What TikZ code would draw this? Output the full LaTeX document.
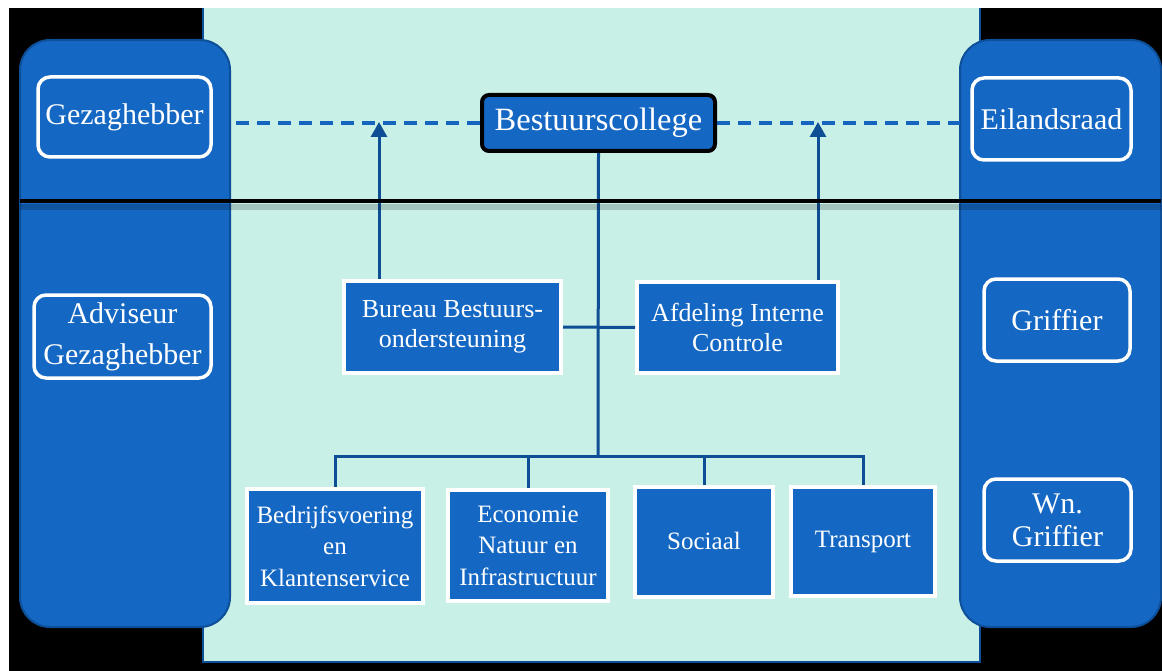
\documentclass[tikz,border=0pt]{standalone}
\usepackage{fontspec}
\setmainfont{Liberation Serif}
\usetikzlibrary{arrows.meta}
\definecolor{boxblue}{HTML}{1467C2}
\definecolor{paneledge}{HTML}{0D4F98}
\definecolor{mint}{HTML}{C8F0E6}
\definecolor{linkblue}{HTML}{0E4E94}
\definecolor{dashblue}{HTML}{1565C0}
\tikzset{
  sidebox/.style={rectangle, rounded corners=12pt, draw=white, line width=3.5pt, fill=boxblue, text=white, align=center, inner sep=2pt},
  unitbox/.style={rectangle, draw=white, line width=4pt, fill=boxblue, text=white, align=center, inner sep=2pt},
  headbox/.style={rectangle, rounded corners=7pt, draw=black, line width=4pt, fill=boxblue, text=white, align=center, inner sep=2pt},
  panel/.style={rounded corners=30pt, fill=boxblue, draw=paneledge, line width=2pt},
  link/.style={draw=linkblue, line width=3pt},
  uparrow/.style={link, -{Triangle[width=16pt,length=15pt]}},
  dashlink/.style={draw=dashblue, line width=4pt, dash pattern=on 13pt off 8pt},
  sidefont/.style={font=\fontsize{30}{41}\selectfont},
  midfont/.style={font=\fontsize{26}{30}\selectfont},
  lowfont/.style={font=\fontsize{25}{31.5}\selectfont}
}
\begin{document}
\begin{tikzpicture}[x=1pt,y=-1pt]
\useasboundingbox (0,0) rectangle (1162,671);
\fill[white] (0,0) rectangle (1162,671);
\fill[black] (9,8) rectangle (1162,671);
% central mint panel
\fill[mint] (203,8) rectangle (980,662);
\draw[paneledge, line width=2.5pt] (203,8) -- (203,662) -- (980,662) -- (980,8);
% side panels
\path[panel] (20,40) rectangle (230,627);
\path[panel] (960,40) rectangle (1161,627);

% nodes
\node[sidebox, sidefont, minimum width=173, minimum height=80] (gez) at (124.5,117) {Gezaghebber};
\node[sidebox, sidefont, minimum width=159, minimum height=82] (eil) at (1051.5,119) {Eilandsraad};
\node[sidebox, sidefont, minimum width=177, minimum height=83] (adv) at (122.5,336.5) {Adviseur\\Gezaghebber};
\node[sidebox, sidefont, minimum width=146, minimum height=82] (grif) at (1057,320) {Griffier};
\node[sidebox, font=\fontsize{30}{33}\selectfont, minimum width=147, minimum height=82] (wn) at (1057.5,520) {Wn.\\Griffier};
\node[headbox, font=\fontsize{32.5}{36}\selectfont, minimum width=233, minimum height=56] (bc) at (598.5,123) {Bestuurscollege};
\node[unitbox, midfont, minimum width=217, minimum height=92] (bbo) at (452.5,327) {Bureau Bestuurs-\\ondersteuning};
\node[unitbox, midfont, minimum width=201, minimum height=91] (aic) at (737.5,327.5) {Afdeling Interne\\Controle};
\node[unitbox, lowfont, minimum width=176, minimum height=114] (bed) at (335,546) {Bedrijfsvoering\\en\\Klantenservice};
\node[unitbox, lowfont, minimum width=160, minimum height=111] (eco) at (528,545.5) {Economie\\Natuur en\\Infrastructuur};
\node[unitbox, lowfont, minimum width=138, minimum height=110] (soc) at (704,542) {\raisebox{3pt}{Sociaal}};
\node[unitbox, lowfont, minimum width=144, minimum height=109] (tra) at (863,541.5) {\raisebox{3pt}{Transport}};

% connectors
\coordinate (a1) at (379,122);
\coordinate (a2) at (818,122);
\coordinate (bus) at (598,456);
\draw[dashlink, shorten >=17pt] (bc.west) -- (bc.west -| gez.east);
\draw[dashlink, shorten >=10pt] (bc.east) -- (bc.east -| eil.west);
\draw[uparrow] (bbo.north -| a1) -- (a1);
\draw[uparrow] (aic.north -| a2) -- (a2);
\draw[link] (bc.south) -- (bus);
\draw[link] (bbo.east) -- (aic.west);
\draw[link] (bed.north) |- (bus) -| (tra.north);
\draw[link] (eco.north) -- (eco.north |- bus);
\draw[link] (soc.north) -- (soc.north |- bus);

% separator line with soft shadow
\draw[black, opacity=0.18, line width=6pt] (20,207) -- (1161,207);
\draw[black, line width=4pt] (20,201) -- (1161,201);
\end{tikzpicture}
\end{document}
